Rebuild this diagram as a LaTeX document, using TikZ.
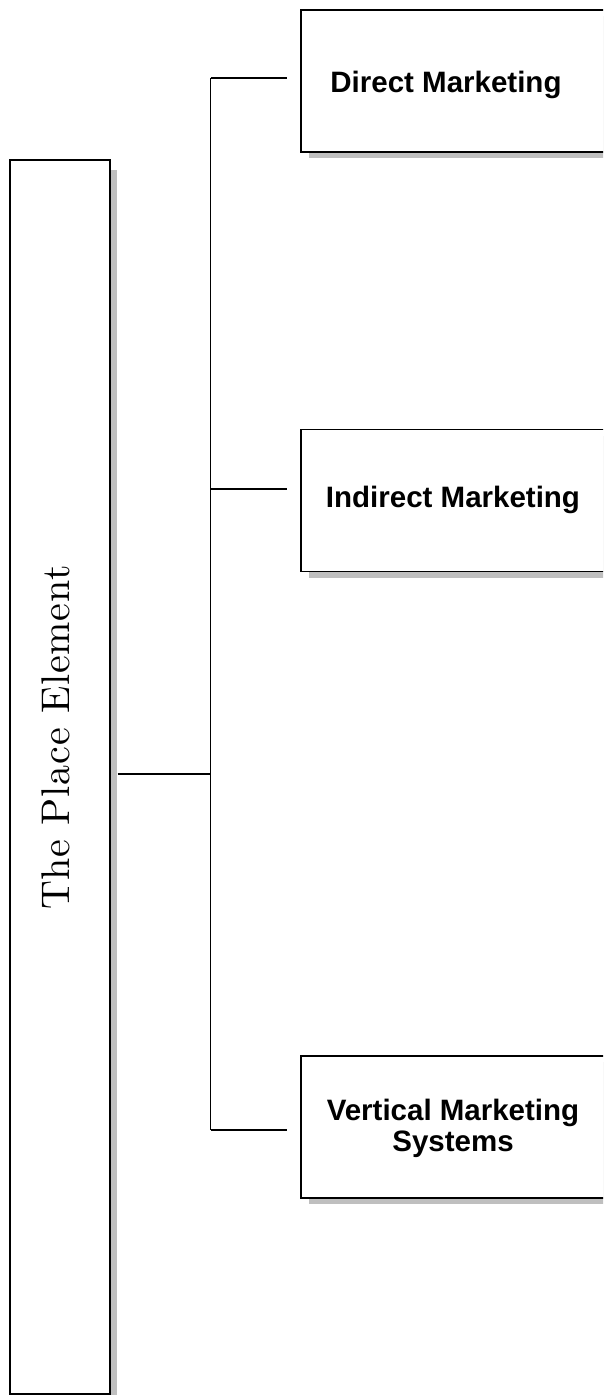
\documentclass[tikz,border=0pt]{standalone}
\usepackage{fontspec}
\newfontfamily\boxfont{Liberation Sans}
\newfontfamily\placefont{lmroman10-regular}[Extension=.otf]
\usepackage{tikz}
\usetikzlibrary{shadows}

\begin{document}
\begin{tikzpicture}[x=1pt, y=-1pt,
    mainbox/.style={draw, line width=1.4pt, fill=white, minimum width=100pt, minimum height=1234pt, inner sep=0pt,
      drop shadow={shadow xshift=7pt, shadow yshift=-10pt, fill=gray!50, opacity=1}},
    box/.style={draw, line width=1.4pt, fill=white, minimum width=320pt, minimum height=142pt, inner sep=0pt,
      drop shadow={shadow xshift=8pt, shadow yshift=-6pt, fill=gray!50, opacity=1}},
    boxtext/.style={font=\boxfont\bfseries\fontsize{29.5}{31}\selectfont, align=center, inner sep=0pt},
    link/.style={line width=1.4pt}]
    \useasboundingbox (0,0) rectangle (603,1395);
    \clip (0,0) rectangle (603,1395);

    \node[mainbox] (place) at (60,777) {};
    \node[rotate=90, inner sep=0pt, font=\placefont\fontsize{40}{48}\selectfont\addfontfeatures{LetterSpace=2}] (placetxt) at (56,737.5) {The Place Element};

    \node[box] (box1) at (461,81) {};
    \node[box] (box2) at (461,500.5) {};
    \node[box] (box3) at (461,1127) {};
    \node[boxtext] (direct) at (446,84.5) {Direct Marketing};
    \node[boxtext] (indirect) at (453,500) {Indirect Marketing};
    \node[boxtext] (vertical) at (453,1128) {Vertical Marketing\\Systems};

    % tree lines
    \coordinate (j0) at (210.5,774);
    \coordinate (j1) at (210.5,78);
    \coordinate (j2) at (210.5,489);
    \coordinate (j3) at (210.5,1130);
    \draw[link] (j1) -- (j3);
    \draw[link] ([xshift=7pt]place.east |- j0) -- (j0);
    \foreach \n in {1,2,3}
        \draw[link] (j\n) -- ([xshift=-13pt]box\n.west |- j\n);
\end{tikzpicture}
\end{document}
